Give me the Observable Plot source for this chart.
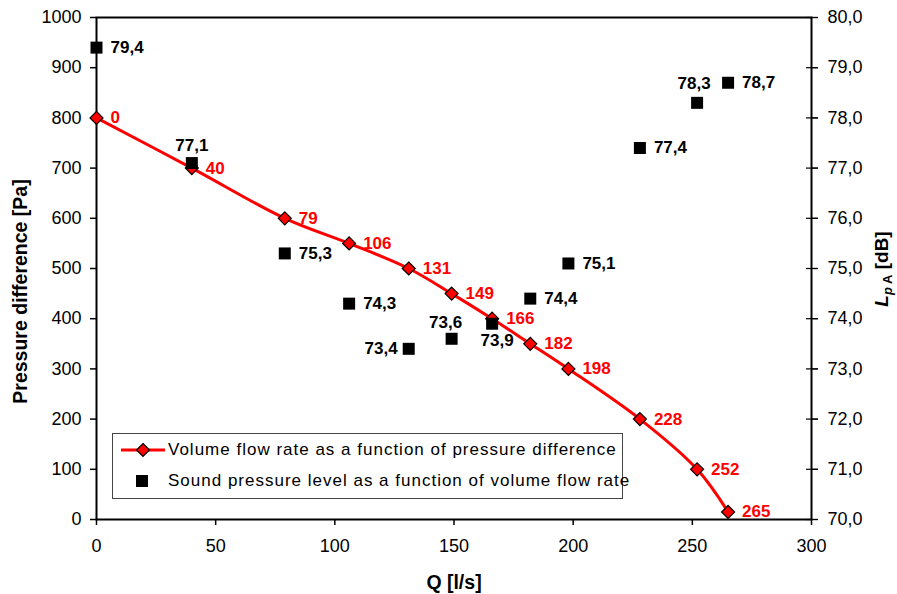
<!DOCTYPE html>
<html>
<head>
<meta charset="utf-8">
<script src="https://cdn.jsdelivr.net/npm/d3@7"></script>
<script src="https://cdn.jsdelivr.net/npm/@observablehq/plot@0.6"></script>
<style>
  html, body { margin: 0; padding: 0; background: white; }
  #wrap { position: relative; width: 897px; height: 594px; font-family: "Liberation Sans", Arial, sans-serif; }
  #legend { position: absolute; left: 112px; top: 433px; width: 511px; height: 66px; border: 1px solid #444; background: white; box-sizing: border-box; }
  .row { position: absolute; left: 0; height: 24px; display: flex; align-items: center; font-size: 17px; letter-spacing: 1px; color: black; white-space: nowrap; }
  .row svg { width: 55px; height: 24px; flex: none; }
</style>
</head>
<body>
<div id="wrap"></div>
<script>
// ---- data ----
const flowQ = [0, 40, 79, 106, 131, 149, 166, 182, 198, 228, 252, 265];
const pressure = [800, 700, 600, 550, 500, 450, 400, 350, 300, 200, 100, 15];
const soundQ = [0, 40, 79, 106, 131, 149, 166, 182, 198, 228, 252, 265];
const soundDb = [79.4, 77.1, 75.3, 74.3, 73.4, 73.6, 73.9, 74.4, 75.1, 77.4, 78.3, 78.7];
const xTicks = [0, 50, 100, 150, 200, 250, 300];
const yTicks = [0, 100, 200, 300, 400, 500, 600, 700, 800, 900, 1000];
const dbTicks = [70, 71, 72, 73, 74, 75, 76, 77, 78, 79, 80];
const xTitle = "Q [l/s]";
const yTitle = "Pressure difference [Pa]";
const legendLabels = ["Volume flow rate as a function of pressure difference", "Sound pressure level as a function of volume flow rate"];

// ---- label placement (style) ----
const dbLabelPlace = ["right", "above", "right", "right", "left", "above2", "below", "right", "right", "right", "above3", "right"];

const dbToY = db => (db - 70) * 100;   // right axis maps 70..80 dB onto 0..1000
const comma = v => v.toFixed(1).replace(".", ",");

const flow = flowQ.map((q, i) => ({q, p: pressure[i]}));
const sound = soundQ.map((q, i) => ({q, db: soundDb[i], place: dbLabelPlace[i]}));

const squareSym = {draw(ctx, size) { const r = Math.sqrt(size / Math.PI); ctx.rect(-r, -r, 2 * r, 2 * r); }};
const diamondSym = {draw(ctx, size) { const r = Math.sqrt(size / Math.PI); ctx.moveTo(0, -r); ctx.lineTo(r, 0); ctx.lineTo(0, r); ctx.lineTo(-r, 0); ctx.closePath(); }};

const labelFont = {fontSize: 17, fontWeight: "bold"};
const placeOpts = {
  right: {dx: 14, textAnchor: "start"},
  left: {dx: -11, textAnchor: "end"},
  above: {dy: -18, textAnchor: "middle"},
  above2: {dy: -16, dx: -6, textAnchor: "middle"},
  above3: {dy: -19, dx: -3, textAnchor: "middle"},
  below: {dy: 17, dx: 5, textAnchor: "middle"}
};

const chart = Plot.plot({
  width: 897,
  height: 594,
  marginTop: 17,
  marginBottom: 75,
  marginLeft: 96,
  marginRight: 86,
  x: {domain: [0, 300]},
  y: {domain: [0, 1000]},
  style: {fontFamily: "'Liberation Sans', Arial, sans-serif", fontSize: "18px", color: "black", background: "white", overflow: "visible"},
  marks: [
    Plot.axisX(xTicks, {tickSize: 6, tickPadding: 14, fontSize: 18, label: null, strokeWidth: 1.5}),
    Plot.axisY(yTicks, {anchor: "left", tickSize: 6, tickPadding: 9, fontSize: 18, label: null, strokeWidth: 1.5, tickFormat: d => String(d)}),
    Plot.axisY(dbTicks.map(dbToY), {anchor: "right", tickSize: 12, dx: -6, strokeWidth: 1.2, tickFormat: () => "", label: null}),
    Plot.axisY(dbTicks.map(dbToY), {anchor: "right", tickSize: 6, tickPadding: 10, fontSize: 18, strokeWidth: 1.2, tickFormat: d => comma(d / 100 + 70), label: null}),
    Plot.frame({stroke: "black", strokeWidth: 2}),
    Plot.line(flow, {x: "q", y: "p", stroke: "#ff0000", strokeWidth: 3, curve: "catmull-rom"}),
    Plot.dot(flow, {x: "q", y: "p", symbol: diamondSym, r: 6.5, fill: "#ff0000", stroke: "black", strokeWidth: 1.2}),
    Plot.text(flow, {x: "q", y: "p", text: d => String(d.q), fill: "#ff0000", dx: 14, textAnchor: "start", ...labelFont}),
    Plot.dot(sound, {x: "q", y: d => dbToY(d.db), symbol: squareSym, r: 6, fill: "black", stroke: "none"}),
    ...Object.entries(placeOpts).map(([k, o]) =>
      Plot.text(sound.filter(d => d.place === k), {x: "q", y: d => dbToY(d.db), text: d => comma(d.db), fill: "black", ...labelFont, ...o})
    ),
    Plot.text([yTitle], {frameAnchor: "left", textAnchor: "middle", lineAnchor: "middle", rotate: -90, dx: -76, dy: 23, text: d => d, fontWeight: "bold", fontSize: 19.5}),
    Plot.text([xTitle], {frameAnchor: "bottom", textAnchor: "middle", lineAnchor: "middle", dy: 63, text: d => d, fontWeight: "bold", fontSize: 19.5})
  ]
});

const wrap = document.getElementById("wrap");
wrap.appendChild(chart);

// right axis title with subscripts
const svg = d3.select(chart);
const t = svg.append("text")
  .attr("transform", "translate(888,269) rotate(-90)")
  .attr("text-anchor", "middle")
  .attr("font-size", 19)
  .attr("font-weight", "bold")
  .attr("fill", "black");
t.append("tspan").attr("font-style", "italic").text("L");
t.append("tspan").attr("font-style", "italic").attr("font-size", 13).attr("dy", 4).text("p");
t.append("tspan").attr("font-size", 13).text(" A");
t.append("tspan").attr("dy", -4).text(" [dB]");

// legend overlay
const legend = document.createElement("div");
legend.id = "legend";
legend.innerHTML = `
  <div class="row" style="top:4px"><svg><line x1="8" x2="52" y1="12" y2="12" stroke="#ff0000" stroke-width="3"/><path d="M30,5.5 L36.5,12 L30,18.5 L23.5,12 Z" fill="#ff0000" stroke="black" stroke-width="1.2"/></svg><span>${legendLabels[0]}</span></div>
  <div class="row" style="top:35px"><svg><rect x="23" y="6" width="12" height="12" fill="black"/></svg><span>${legendLabels[1]}</span></div>`;
wrap.appendChild(legend);
</script>
</body>
</html>
